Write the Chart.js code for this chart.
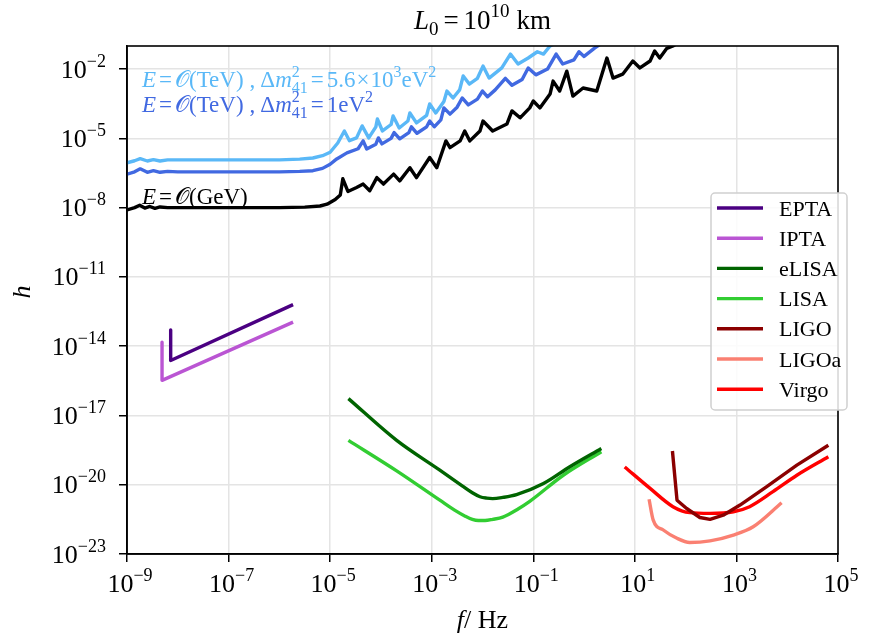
<!DOCTYPE html>
<html>
<head>
<meta charset="utf-8">
<script src="https://cdn.jsdelivr.net/npm/chart.js@4.4.1/dist/chart.umd.min.js"></script>
<style>
  html, body { margin: 0; padding: 0; background: #fff; }
  #wrap { width: 881px; height: 643px; }
</style>
</head>
<body>
<div id="wrap"><canvas id="chart" width="881" height="643"></canvas></div>
<script>
// Tick positions (log10 exponents)
const xTickExps = [-9, -7, -5, -3, -1, 1, 3, 5];
const yTickExps = [-23, -20, -17, -14, -11, -8, -5, -2];

// Curves as log10(f) / log10(h)
const blackF = [-9.0, -8.85, -8.75, -8.65, -8.55, -8.45, -8.35, -8.2, -7.0, -6.0, -5.5, -5.2, -5.06, -4.9, -4.8, -4.75, -4.65, -4.48, -4.35, -4.22, -4.08, -3.95, -3.75, -3.63, -3.43, -3.30, -3.04, -2.90, -2.72, -2.64, -2.44, -2.35, -2.25, -2.05, -1.99, -1.80, -1.52, -1.42, -1.26, -1.07, -1.0, -0.87, -0.67, -0.61, -0.48, -0.34, -0.22, -0.02, 0.25, 0.45, 0.57, 0.76, 0.96, 1.10, 1.30, 1.39, 1.49, 1.63, 1.75, 1.9];
const blackH = [-8.1, -8.0, -7.9, -8.02, -7.95, -8.03, -7.97, -8.0, -8.0, -8.0, -7.98, -7.93, -7.85, -7.65, -7.45, -6.75, -7.3, -7.13, -6.98, -7.27, -6.70, -6.98, -6.55, -6.84, -6.27, -6.70, -5.83, -6.27, -5.11, -5.40, -5.11, -4.68, -5.11, -4.68, -4.25, -4.68, -4.38, -3.81, -4.11, -3.68, -3.38, -3.68, -3.08, -2.52, -2.95, -2.09, -3.17, -2.82, -2.95, -1.52, -2.39, -2.22, -1.65, -1.95, -1.65, -1.22, -1.52, -1.1, -1.0, -0.8];

const blueF = [-9.0, -8.85, -8.74, -8.6, -8.48, -8.35, -8.2, -8.0, -7.0, -6.0, -5.6, -5.34, -5.15, -5.0, -4.87, -4.67, -4.45, -4.35, -4.28, -4.1, -4.05, -3.98, -3.8, -3.74, -3.63, -3.45, -3.4, -3.29, -3.1, -3.04, -2.95, -2.82, -2.76, -2.64, -2.5, -2.4, -2.28, -2.1, -2.0, -1.9, -1.75, -1.55, -1.42, -1.22, -1.1, -0.95, -0.72, -0.55, -0.42, -0.2, -0.1, 0.0, 0.2, 0.4];
const blueH = [-6.55, -6.45, -6.32, -6.47, -6.4, -6.47, -6.43, -6.45, -6.45, -6.45, -6.43, -6.4, -6.3, -6.12, -5.89, -5.63, -5.45, -5.11, -5.46, -5.25, -4.98, -5.24, -5.0, -4.75, -5.02, -4.75, -4.5, -4.78, -4.5, -4.25, -4.5, -4.2, -3.68, -3.95, -3.65, -3.25, -3.55, -3.3, -2.95, -3.2, -2.9, -2.4, -2.7, -2.45, -1.95, -2.25, -2.0, -1.35, -1.78, -1.6, -1.25, -1.45, -1.1, -0.8];

const lightF = [-9.0, -8.85, -8.74, -8.6, -8.48, -8.35, -8.2, -7.0, -6.0, -5.6, -5.34, -5.15, -5.0, -4.85, -4.72, -4.62, -4.48, -4.37, -4.24, -4.1, -4.07, -3.97, -3.8, -3.76, -3.64, -3.47, -3.43, -3.3, -3.1, -3.04, -2.92, -2.76, -2.70, -2.58, -2.45, -2.38, -2.26, -2.1, -1.99, -1.87, -1.62, -1.45, -1.3, -1.1, -0.92, -0.8, -0.67, -0.5];
const lightH = [-6.06, -5.97, -5.88, -5.98, -5.92, -5.98, -5.93, -5.93, -5.93, -5.9, -5.85, -5.75, -5.6, -5.2, -4.68, -5.1, -4.98, -4.46, -4.98, -4.5, -4.16, -4.68, -4.4, -4.03, -4.55, -4.25, -3.9, -4.33, -4.0, -3.51, -3.9, -3.4, -2.95, -3.25, -2.9, -2.3, -2.65, -2.4, -1.87, -2.39, -1.95, -1.35, -1.78, -1.52, -1.25, -1.35, -1.0, -0.8];

const eptaF = [-8.14, -8.14, -5.73];
const eptaH = [-13.3, -14.62, -12.2];
const iptaF = [-8.31, -8.31, -5.73];
const iptaH = [-13.83, -15.48, -12.96];

const elisaF = [-4.64, -3.69, -2.84, -2.4, -2.2, -2.05, -1.92, -1.8, -1.6, -1.33, -0.80, -0.28, 0.34];
const elisaH = [-16.27, -18.08, -19.37, -20.05, -20.35, -20.52, -20.58, -20.6, -20.55, -20.43, -19.95, -19.22, -18.43];
const lisaF = [-4.64, -3.69, -2.84, -2.55, -2.35, -2.2, -2.08, -1.95, -1.8, -1.6, -1.3, -1.07, -0.41, 0.34];
const lisaH = [-18.08, -19.4, -20.67, -21.1, -21.35, -21.5, -21.55, -21.55, -21.5, -21.4, -21.05, -20.72, -19.59, -18.57];

const ligoF = [1.74, 1.83, 2.02, 2.28, 2.48, 2.74, 3.07, 3.59, 4.19, 4.81];
const ligoH = [-18.54, -20.67, -21.03, -21.42, -21.5, -21.32, -20.88, -20.09, -19.15, -18.29];
const ligoaF = [1.28, 1.36, 1.56, 1.82, 2.08, 2.48, 2.94, 3.33, 3.89];
const ligoaH = [-20.63, -21.52, -21.96, -22.31, -22.5, -22.43, -22.18, -21.82, -20.78];
const virgoF = [0.80, 1.30, 1.75, 2.08, 2.48, 2.94, 3.26, 3.72, 4.19, 4.81];
const virgoH = [-19.23, -20.16, -20.95, -21.21, -21.24, -21.17, -20.95, -20.3, -19.59, -18.79];

const SERIF = '"Liberation Serif", "DejaVu Serif", serif';

function pts(fs, hs) {
    return fs.map((f, i) => ({ x: Math.pow(10, f), y: Math.pow(10, hs[i]) }));
}

function line(label, fs, hs, color, smooth) {
    return {
        label: label,
        data: pts(fs, hs),
        borderColor: color,
        backgroundColor: color,
        borderWidth: 3.4,
        pointRadius: 0,
        cubicInterpolationMode: smooth ? 'monotone' : 'default',
        tension: 0,
        borderJoinStyle: 'round',
        fill: false
    };
}

// mixed text: upright / italic / raised / lowered pieces, g = extra gap before
function drawRich(ctx, parts, x, y, align, color) {
    let w = 0;
    parts.forEach(p => {
        ctx.font = (p.i ? 'italic ' : '') + (p.s || 23) + 'px ' + SERIF;
        p.w = ctx.measureText(p.t).width;
        w += (p.g || 0);
        if (!p.keep) w += p.w;
    });
    let cx = align === 'center' ? x - w / 2 : align === 'right' ? x - w : x;
    ctx.fillStyle = color || '#000';
    ctx.textAlign = 'left';
    ctx.textBaseline = 'alphabetic';
    parts.forEach(p => {
        ctx.font = (p.i ? 'italic ' : '') + (p.s || 23) + 'px ' + SERIF;
        cx += (p.g || 0);
        ctx.fillText(p.t, cx, y + (p.dy || 0));
        if (!p.keep) cx += p.w;
    });
}

function powLabel(e) {
    const s = e < 0 ? '\u2212' + (-e) : String(e);
    return [{ t: '10', s: 26 }, { t: s, s: 18, dy: -11 }];
}

const legendItems = [
    ['EPTA', '#4b0082'], ['IPTA', '#ba55d3'], ['eLISA', '#006400'], ['LISA', '#32cd32'],
    ['LIGO', '#8b0000'], ['LIGOa', '#fa8072'], ['Virgo', '#ff0000']
];

const decor = {
    id: 'decor',
    afterDraw(chart) {
        const ctx = chart.ctx;
        const a = chart.chartArea;
        const xs = chart.scales.x, ys = chart.scales.y;
        ctx.save();

        // frame
        ctx.strokeStyle = '#000';
        ctx.lineWidth = 1.6;
        ctx.strokeRect(a.left, a.top, a.right - a.left, a.bottom - a.top);

        // tick labels
        xTickExps.forEach(e => {
            drawRich(ctx, powLabel(e), xs.getPixelForValue(Math.pow(10, e)) + 3, a.bottom + 38, 'center');
        });
        yTickExps.forEach(e => {
            drawRich(ctx, powLabel(e), 106, ys.getPixelForValue(Math.pow(10, e)) + 8.5, 'right');
        });

        // axis titles
        drawRich(ctx, [{ t: 'f', i: 1, s: 26 }, { t: '/ Hz', s: 26 }], (a.left + a.right) / 2, 628, 'center');
        ctx.save();
        ctx.translate(30, 292);
        ctx.rotate(-Math.PI / 2);
        drawRich(ctx, [{ t: 'h', i: 1, s: 26 }], 0, 0, 'center');
        ctx.restore();

        // title
        drawRich(ctx, [
            { t: 'L', i: 1, s: 27 }, { t: '0', s: 19, dy: 6 }, { t: '=', s: 27, g: 5 },
            { t: '10', s: 27, g: 5 }, { t: '10', s: 19, dy: -12 }, { t: 'km', s: 27, g: 7 }
        ], (a.left + a.right) / 2, 29, 'center');

        // curve notes
        const sm = 16;
        const tev = [
            { t: 'E', i: 1 }, { t: '=', g: 3 }, { t: '\uD835\uDCAA', g: 3 }, { t: '(TeV)' },
            { t: ',', g: 6 }, { t: '\u0394', g: 5 }, { t: 'm', i: 1 },
            { t: '2', s: sm, dy: -10, keep: 1 }, { t: '41', s: sm, dy: 6 }, { t: '=', g: 3 }
        ];
        drawRich(ctx, tev.map(p => Object.assign({}, p)).concat([
            { t: '5.6', g: 3 }, { t: '\u00D7', g: 1 }, { t: '10', g: 1 }, { t: '3', s: sm, dy: -10 },
            { t: 'eV' }, { t: '2', s: sm, dy: -10 }
        ]), 142, 87, 'left', '#5ab8f7');
        drawRich(ctx, tev.map(p => Object.assign({}, p)).concat([
            { t: '1eV', g: 3 }, { t: '2', s: sm, dy: -10 }
        ]), 142, 112, 'left', '#4169e1');
        drawRich(ctx, [
            { t: 'E', i: 1 }, { t: '=', g: 3 }, { t: '\uD835\uDCAA', g: 3 }, { t: '(GeV)' }
        ], 142, 204, 'left', '#000');

        // legend box
        ctx.beginPath();
        ctx.roundRect(711, 193, 136, 217, 4);
        ctx.fillStyle = 'rgba(255,255,255,0.85)';
        ctx.fill();
        ctx.strokeStyle = '#d0d0d0';
        ctx.lineWidth = 1.5;
        ctx.stroke();
        legendItems.forEach((it, i) => {
            const cy = 208 + i * 30.2;
            ctx.strokeStyle = it[1];
            ctx.lineWidth = 3.4;
            ctx.beginPath();
            ctx.moveTo(717, cy);
            ctx.lineTo(763, cy);
            ctx.stroke();
            drawRich(ctx, [{ t: it[0], s: 22 }], 779, cy + 7.5, 'left', '#000');
        });

        ctx.restore();
    }
};

const gridOpts = { color: '#e4e4e4', lineWidth: 1.5, tickColor: '#000', tickLength: 8, tickWidth: 1.5 };

new Chart(document.getElementById('chart').getContext('2d'), {
    type: 'line',
    data: {
        datasets: [
            line('light', lightF, lightH, '#5ab8f7'),
            line('blue', blueF, blueH, '#4169e1'),
            line('black', blackF, blackH, '#000000'),
            line('EPTA', eptaF, eptaH, '#4b0082'),
            line('IPTA', iptaF, iptaH, '#ba55d3'),
            line('eLISA', elisaF, elisaH, '#006400', true),
            line('LISA', lisaF, lisaH, '#32cd32', true),
            line('LIGO', ligoF, ligoH, '#8b0000'),
            line('LIGOa', ligoaF, ligoaH, '#fa8072', true),
            line('Virgo', virgoF, virgoH, '#ff0000', true)
        ]
    },
    options: {
        responsive: false,
        animation: false,
        layout: { padding: { left: 119, right: 43, top: 46, bottom: 81 } },
        plugins: { legend: { display: false }, title: { display: false }, tooltip: { enabled: false } },
        scales: {
            x: {
                type: 'logarithmic', min: 1e-9, max: 1e5,
                afterBuildTicks: s => { s.ticks = xTickExps.map(e => ({ value: Math.pow(10, e) })); },
                ticks: { display: false },
                grid: gridOpts,
                border: { color: '#000', width: 1.6 }
            },
            y: {
                type: 'logarithmic', min: 1e-23, max: 0.1,
                afterBuildTicks: s => { s.ticks = yTickExps.map(e => ({ value: Math.pow(10, e) })); },
                ticks: { display: false },
                grid: gridOpts,
                border: { color: '#000', width: 1.6 }
            }
        }
    },
    plugins: [decor]
});
</script>
</body>
</html>
